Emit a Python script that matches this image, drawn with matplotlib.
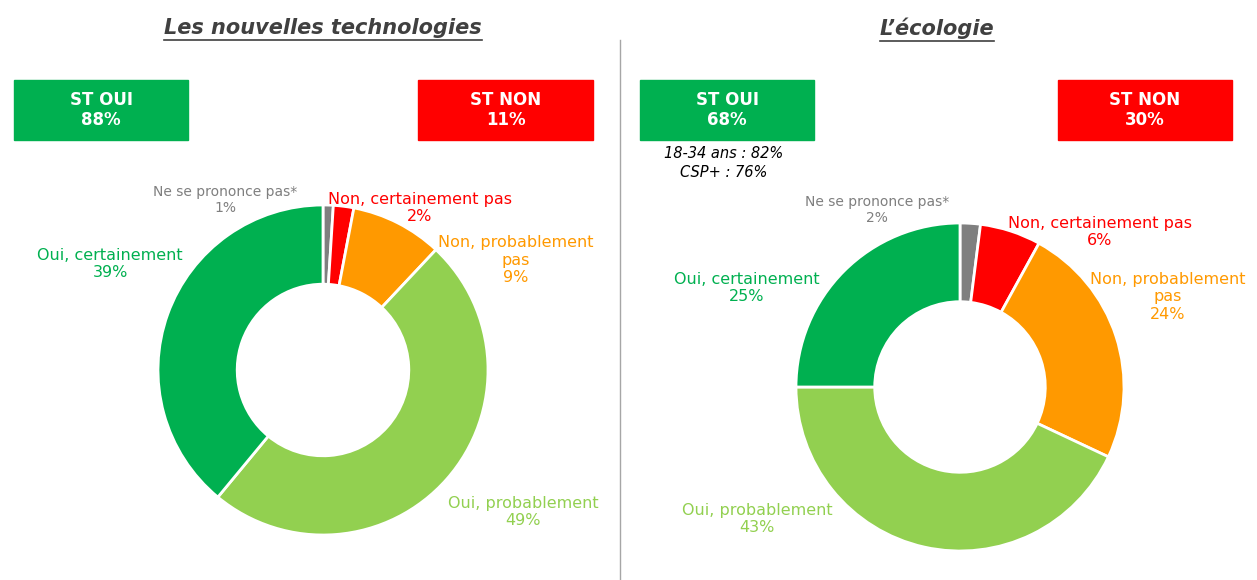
import matplotlib
matplotlib.use("Agg")
import matplotlib.pyplot as plt
from matplotlib.patches import Rectangle
from matplotlib.lines import Line2D

W, H = 1257, 580
categories = ["Ne se prononce pas*", "Non, certainement pas", "Non, probablement pas", "Oui, probablement", "Oui, certainement"]
tech_values = [1, 2, 9, 49, 39]
eco_values = [2, 6, 24, 43, 25]
colors = ["#7F7F7F", "#FF0000", "#FF9900", "#92D050", "#00B050"]
tech_st = ["88%", "11%"]
eco_st = ["68%", "30%"]

fig = plt.figure(figsize=(W/100, H/100), dpi=100)
plt.rcParams["font.family"] = "DejaVu Sans"

def px(x, y):
    return x / W, 1 - y / H

def donut(cx, cy, r, vals):
    ax = fig.add_axes([(cx - r) / W, 1 - (cy + r) / H, 2 * r / W, 2 * r / H])
    ax.pie(vals, colors=colors, startangle=90, counterclock=False,
           wedgeprops=dict(width=0.48, edgecolor="white", linewidth=2))
    ax.set_xlim(-1, 1); ax.set_ylim(-1, 1); ax.set_aspect("auto")
    ax.axis("off")

donut(323, 370, 165, tech_values)
donut(960, 387, 164, eco_values)

def box(x0, x1, color, title, val):
    fig.patches.append(Rectangle(px(x0, 140), (x1 - x0) / W, 60 / H, transform=fig.transFigure, color=color))
    fig.text(*px((x0 + x1) / 2, 110), f"{title}\n{val}", color="white", fontsize=12, fontweight="bold",
             ha="center", va="center", linespacing=1.2)

box(14, 188, "#00B050", "ST OUI", tech_st[0])
box(418, 593, "#FF0000", "ST NON", tech_st[1])
box(640, 814, "#00B050", "ST OUI", eco_st[0])
box(1058, 1232, "#FF0000", "ST NON", eco_st[1])

fig.lines.append(Line2D([620 / W] * 2, [1 - 40 / H, 0], transform=fig.transFigure, color="#A6A6A6", lw=1))

titles = [(323, "Les nouvelles technologies"), (937, "L\u2019écologie")]
txts = []
for x, t in titles:
    txts.append(fig.text(*px(x, 28), t, fontsize=15, fontweight="bold", fontstyle="italic",
                         color="#404040", ha="center", va="center"))
fig.canvas.draw()
r = fig.canvas.get_renderer()
for tx in txts:
    bb = tx.get_window_extent(r)
    y = bb.y0 - 2
    fig.lines.append(Line2D([bb.x0 / W, bb.x1 / W], [y / H, y / H], transform=fig.transFigure, color="#404040", lw=1.2))

def lab(x, y, txt, c, fs=11.5, ha="center"):
    fig.text(*px(x, y), txt, color=c, fontsize=fs, ha=ha, va="center", linespacing=1.2)

# left labels
lab(225, 200, "Ne se prononce pas*\n1%", "#7F7F7F", 10)
lab(420, 208, "Non, certainement pas\n2%", colors[1])
lab(516, 260, "Non, probablement\npas\n9%", colors[2])
lab(110, 264, "Oui, certainement\n39%", colors[4])
lab(523, 512, "Oui, probablement\n49%", "#92D050")
# right labels
lab(877, 210, "Ne se prononce pas*\n2%", "#7F7F7F", 10)
lab(1100, 232, "Non, certainement pas\n6%", colors[1])
lab(1168, 297, "Non, probablement\npas\n24%", colors[2])
lab(747, 288, "Oui, certainement\n25%", colors[4])
lab(757, 519, "Oui, probablement\n43%", "#92D050")
fig.text(*px(724, 163), "18-34 ans : 82%\nCSP+ : 76%", fontsize=10.5, fontstyle="italic",
         color="black", ha="center", va="center", linespacing=1.3)

fig.savefig("out.png", dpi=100)
